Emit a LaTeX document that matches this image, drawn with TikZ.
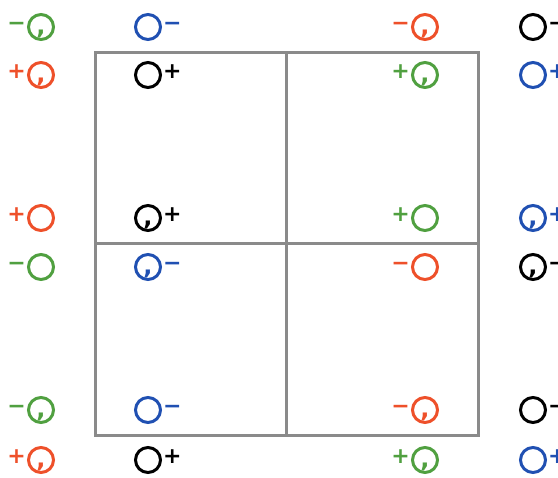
\documentclass[tikz,border=0pt]{standalone}
\usepackage{xcolor}
\usepackage{fontspec}
\usepackage{tikz}
\usetikzlibrary{positioning}
\newfontfamily\dejavubold{DejaVu Sans Bold}

\definecolor{grn}{RGB}{80,160,64}
\definecolor{org}{RGB}{238,80,42}
\definecolor{blu}{RGB}{32,80,178}
\definecolor{gridgray}{RGB}{138,138,138}

\begin{document}
\begin{tikzpicture}[x=1pt, y=-1pt,
    ring/.style={circle, draw, line width=3pt, minimum size=25pt, inner sep=0pt,
        font=\dejavubold\fontsize{24}{24}\selectfont, text height=15pt, text depth=0pt},
    sgn/.style={inner sep=0pt, font=\dejavubold\fontsize{22}{22}\selectfont,
        text height=0.78em, text depth=0pt},
    gridline/.style={draw=gridgray, line width=3pt}]
    \useasboundingbox (0,0) rectangle (558,478);

    % Grid
    \draw [gridline] (95,53) rectangle (478,436);
    \draw [gridline] (286.5,53) -- (286.5,436);
    \draw [gridline] (95,244) -- (478,244);

    % Row 1
    \node [ring, grn] (r1c1) at (41,27) {,};
    \node [sgn, grn, left=1pt of r1c1] (r1c1s) {−};
    \node [ring, blu] (r1c2) at (148,27) {};
    \node [sgn, blu, right=1pt of r1c2] (r1c2s) {−};
    \node [ring, org] (r1c3) at (425,27) {,};
    \node [sgn, org, left=1pt of r1c3] (r1c3s) {−};
    \node [ring, black] (r1c4) at (533,27) {};
    \node [sgn, black, right=1pt of r1c4] (r1c4s) {−};

    % Row 2
    \node [ring, org] (r2c1) at (41,75) {,};
    \node [sgn, org, left=1pt of r2c1] (r2c1s) {+};
    \node [ring, black] (r2c2) at (148,75) {};
    \node [sgn, black, right=1pt of r2c2] (r2c2s) {+};
    \node [ring, grn] (r2c3) at (425,75) {,};
    \node [sgn, grn, left=1pt of r2c3] (r2c3s) {+};
    \node [ring, blu] (r2c4) at (533,75) {};
    \node [sgn, blu, right=1pt of r2c4] (r2c4s) {+};

    % Row 3
    \node [ring, org] (r3c1) at (41,218) {};
    \node [sgn, org, left=1pt of r3c1] (r3c1s) {+};
    \node [ring, black] (r3c2) at (148,218) {,};
    \node [sgn, black, right=1pt of r3c2] (r3c2s) {+};
    \node [ring, grn] (r3c3) at (425,218) {};
    \node [sgn, grn, left=1pt of r3c3] (r3c3s) {+};
    \node [ring, blu] (r3c4) at (533,218) {,};
    \node [sgn, blu, right=1pt of r3c4] (r3c4s) {+};

    % Row 4
    \node [ring, grn] (r4c1) at (41,267) {};
    \node [sgn, grn, left=1pt of r4c1] (r4c1s) {−};
    \node [ring, blu] (r4c2) at (148,267) {,};
    \node [sgn, blu, right=1pt of r4c2] (r4c2s) {−};
    \node [ring, org] (r4c3) at (425,267) {};
    \node [sgn, org, left=1pt of r4c3] (r4c3s) {−};
    \node [ring, black] (r4c4) at (533,267) {,};
    \node [sgn, black, right=1pt of r4c4] (r4c4s) {−};

    % Row 5
    \node [ring, grn] (r5c1) at (41,410) {,};
    \node [sgn, grn, left=1pt of r5c1] (r5c1s) {−};
    \node [ring, blu] (r5c2) at (148,410) {};
    \node [sgn, blu, right=1pt of r5c2] (r5c2s) {−};
    \node [ring, org] (r5c3) at (425,410) {,};
    \node [sgn, org, left=1pt of r5c3] (r5c3s) {−};
    \node [ring, black] (r5c4) at (533,410) {};
    \node [sgn, black, right=1pt of r5c4] (r5c4s) {−};

    % Row 6
    \node [ring, org] (r6c1) at (41,460) {,};
    \node [sgn, org, left=1pt of r6c1] (r6c1s) {+};
    \node [ring, black] (r6c2) at (148,460) {};
    \node [sgn, black, right=1pt of r6c2] (r6c2s) {+};
    \node [ring, grn] (r6c3) at (425,460) {,};
    \node [sgn, grn, left=1pt of r6c3] (r6c3s) {+};
    \node [ring, blu] (r6c4) at (533,460) {};
    \node [sgn, blu, right=1pt of r6c4] (r6c4s) {+};
\end{tikzpicture}
\end{document}
